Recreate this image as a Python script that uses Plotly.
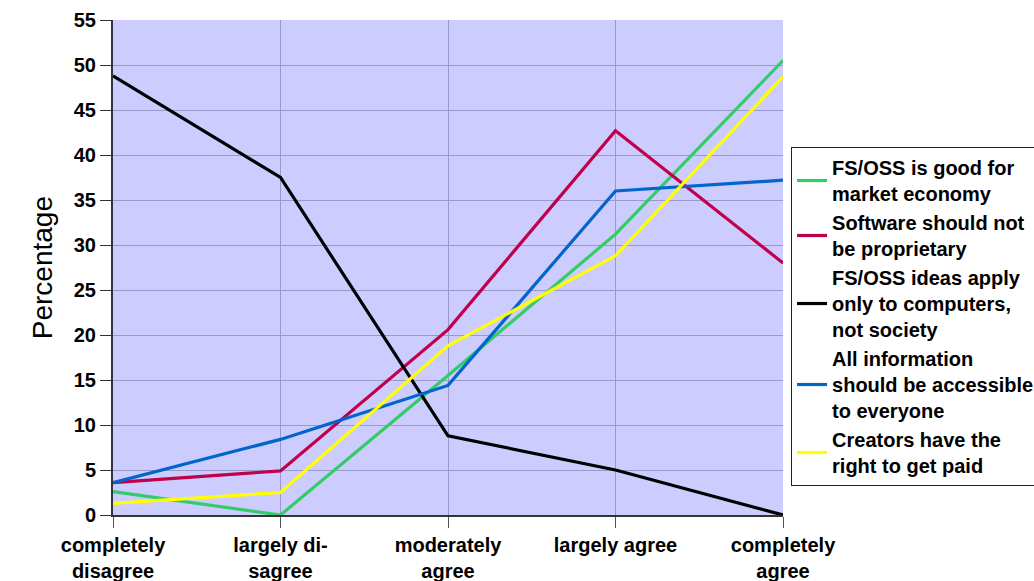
import plotly.graph_objects as go

categories = ["completely<br>disagree", "largely di-<br>sagree", "moderately<br>agree",
              "largely agree", "completely<br>agree"]

market_economy = [2.6, 0.0, 15.5, 31.2, 50.5]
not_proprietary = [3.6, 4.9, 20.6, 42.7, 28.0]
only_computers = [48.8, 37.5, 8.8, 5.0, 0.0]
info_accessible = [3.6, 8.4, 14.4, 36.0, 37.2]
creators_paid = [1.3, 2.5, 18.8, 28.8, 48.7]

series = [
    ("FS/OSS is good for<br>market economy", market_economy, "#33CC66"),
    ("Software should not<br>be proprietary", not_proprietary, "#C0004A"),
    ("FS/OSS ideas apply<br>only to computers,<br>not society", only_computers, "#000000"),
    ("All information<br>should be accessible<br>to everyone", info_accessible, "#0066CC"),
    ("Creators have the<br>right to get paid", creators_paid, "#FFFF00"),
]

font = "Liberation Sans, Arial, sans-serif"
x = list(range(len(categories)))

fig = go.Figure()
for name, vals, col in series:
    fig.add_trace(go.Scatter(x=x, y=vals, mode="lines", name=name,
                             line=dict(color=col, width=3.2)))

fig.update_layout(
    width=1034, height=581,
    margin=dict(l=113, r=251, t=20, b=66, autoexpand=False),
    paper_bgcolor="white",
    plot_bgcolor="#CCCCFF",
    font=dict(family=font, color="black"),
    legend=dict(x=1.012, y=0.7434, xanchor="left", yanchor="top",
                bordercolor="#222222", borderwidth=1, bgcolor="white",
                itemwidth=30,
                font=dict(family=font, size=20, color="black", weight="bold"),
                tracegroupgap=0),
    annotations=[dict(text="Percentage", x=-0.131, y=0.5, xref="paper", yref="paper",
                      textangle=-90, showarrow=False,
                      font=dict(family=font, size=28, color="black"))],
)
fig.update_xaxes(range=[0, 4], tickvals=x, ticktext=categories, showgrid=True,
                 gridcolor="#9999CC", gridwidth=1, zeroline=False,
                 showline=True, linecolor="#333333", linewidth=2,
                 ticks="outside", ticklen=11, tickcolor="#555555",
                 tickfont=dict(family=font, size=20, color="black", weight="bold"))
fig.update_yaxes(range=[0, 55], dtick=5, showgrid=True, gridcolor="#9999CC",
                 gridwidth=1, zeroline=False, showline=True, linecolor="#333344",
                 linewidth=2, ticks="outside", ticklen=11, tickcolor="#333333",
                 tickfont=dict(family=font, size=20, color="black", weight="bold"))

# drop the default page margin so the 1034x581 figure fills the window
fig.write_html("out.html", config={"displayModeBar": False},
               post_script="document.body.style.margin='0';")
